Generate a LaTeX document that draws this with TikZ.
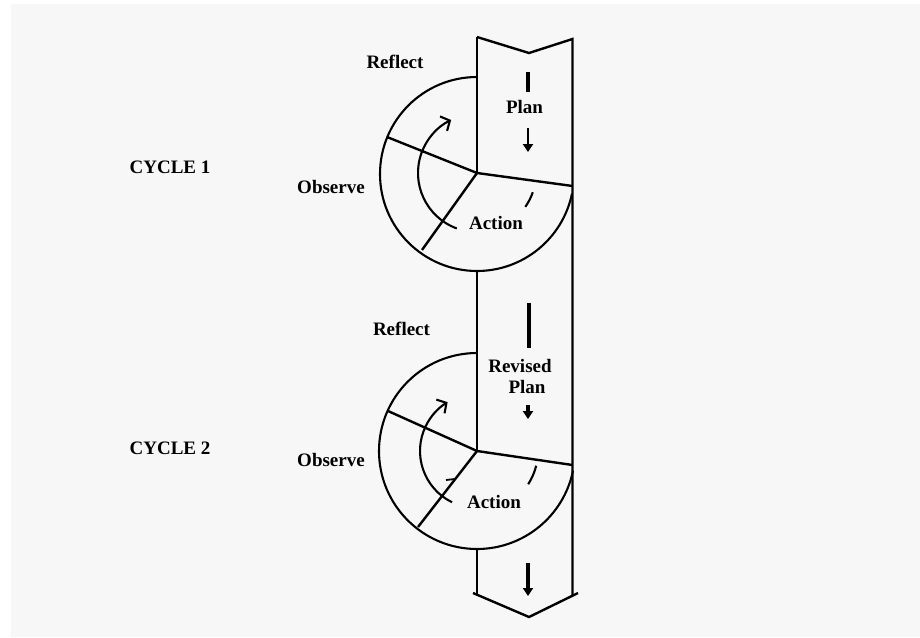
\documentclass[tikz,border=0pt]{standalone}
\usepackage{fontspec}
\setmainfont{Liberation Serif}
\usetikzlibrary{arrows.meta}
\definecolor{bg}{RGB}{247,247,247}
\begin{document}
\begin{tikzpicture}[x=1pt,y=-1pt,
  lbl/.style={font=\fontsize{19}{21}\selectfont\bfseries, anchor=base, inner sep=0pt},
  edge/.style={line width=2.4pt, line join=miter},
  circ/.style={line width=2.1pt},
  radial/.style={line width=2.4pt},
  bar/.style={line width=3.8pt},
  turn/.style={line width=2.1pt, -{Straight Barb[length=7pt,width=16pt,line width=2.1pt]}},
  down/.style={line width=2.4pt, -{Triangle[length=8pt,width=10pt]}},
  thickdown/.style={line width=3.6pt, -{Triangle[length=8pt,width=10pt]}}]
\useasboundingbox (0,0) rectangle (920,637);
\fill[white] (0,0) rectangle (920,637);
\fill[bg] (11,4) rectangle (920,637);

% key points
\coordinate (c1) at (477,173);
\coordinate (c2) at (477,451);

% banner outline
\draw[edge] (477,37) -- (529,53) -- (572.5,39) -- (572.5,595);
\draw[edge] (477,37) -- (c1);
\draw[edge] (477,272) -- (c2);
\draw[edge] (477,548) -- (477,594);
\draw[edge] (473,593) -- (529,617) -- (578,593);

% cycle 1
\draw[circ] (477,77) arc[start angle=-90, end angle=-348.3, radius=97];
\draw[radial] (c1) -- (387,137);
\draw[radial] (c1) -- (422,250);
\draw[radial] (c1) -- (572.5,186);
\draw[turn] (c1) ++(-250:59) arc[start angle=-250, end angle=-116, radius=59];
\draw[line width=2.1pt] (c1) ++(19:59) arc[start angle=19, end angle=35, radius=59];

% cycle 2
\draw[circ] (477,353) arc[start angle=-90, end angle=-348.4, radius=98];
\draw[radial] (c2) -- (388,411);
\draw[radial] (c2) -- (418,527);
\draw[radial] (c2) -- (572.5,465);
\draw[turn] (c2) ++(-244:57) arc[start angle=-244, end angle=-121, radius=57];
\draw[line width=2.1pt] (c2) ++(14:61) arc[start angle=14, end angle=33, radius=61];
\draw[line width=1.8pt] (446,480) -- (455,479);

% flow arrows
\draw[bar] (528,72) -- (528,92);
\draw[down] (528,128) -- (528,152);
\draw[bar] (529,303) -- (529,348);
\draw[thickdown] (528,405) -- (528,419);
\draw[thickdown] (528,563) -- (528,596);

% labels
\node[lbl] (reflect1) at (395,68) {Reflect};
\node[lbl] (observe1) at (331,193) {Observe};
\node[lbl] (cycle1) at (170,173) {CYCLE 1};
\node[lbl] (plan1) at (524.5,113) {Plan};
\node[lbl] (action1) at (496,229) {Action};
\node[lbl] (reflect2) at (401.5,335) {Reflect};
\node[lbl] (observe2) at (331,466) {Observe};
\node[lbl] (cycle2) at (170,454) {CYCLE 2};
\node[lbl] (revised) at (520,372) {Revised};
\node[lbl] (plan2) at (527,393) {Plan};
\node[lbl] (action2) at (494,508) {Action};
\end{tikzpicture}
\end{document}
